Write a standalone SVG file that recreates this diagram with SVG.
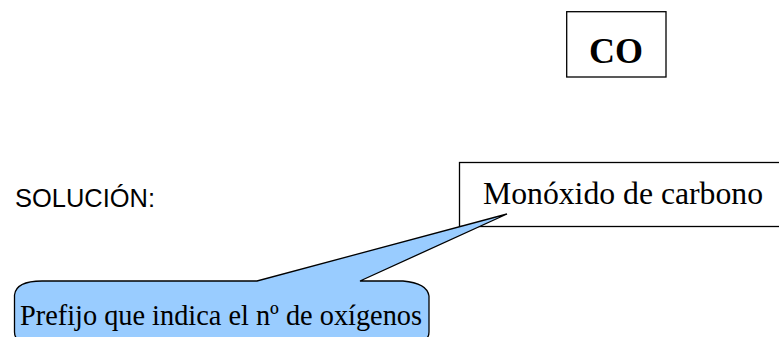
<svg xmlns="http://www.w3.org/2000/svg" width="779" height="337" viewBox="0 0 779 337">
<style>
.box{fill:#ffffff;stroke:#000000;stroke-width:1.3}
.serif{font-family:"Liberation Serif","Times New Roman",serif;fill:#000000}
.sans{font-family:"Liberation Sans",Arial,sans-serif;fill:#000000}
.callout{fill:#99ccff;stroke:#000000;stroke-width:1.3;stroke-linejoin:miter}
</style>
<rect width="779" height="337" fill="#ffffff"/>
<g id="formula">
<rect class="box" x="566.7" y="11.7" width="99.3" height="65.3"/>
<text class="serif" x="616" y="63" font-size="36" font-weight="bold" text-anchor="middle">CO</text>
</g>
<g id="solucion-label">
<text class="sans" x="15" y="206.5" font-size="25" textLength="140" lengthAdjust="spacingAndGlyphs">SOLUCIÓN:</text>
</g>
<g id="answer">
<rect class="box" x="459.5" y="162.5" width="330" height="64"/>
<text class="serif" x="483" y="203.5" font-size="31.7" textLength="280" lengthAdjust="spacingAndGlyphs">Monóxido de carbono</text>
</g>
<g id="connectors">
<g id="callout">
<path class="callout" d="M14.5,295 Q16,281 42,281 L257,281 L507,214 L360,281 L403,281 Q427,283 429,296 L429,332 Q429,342 415,342 L28,342 Q14.5,342 14.5,332 Z"/>
<text class="serif" x="20" y="324.5" font-size="30" textLength="402" lengthAdjust="spacingAndGlyphs">Prefijo que indica el nº de oxígenos</text>
</g>
</g>
</svg>
